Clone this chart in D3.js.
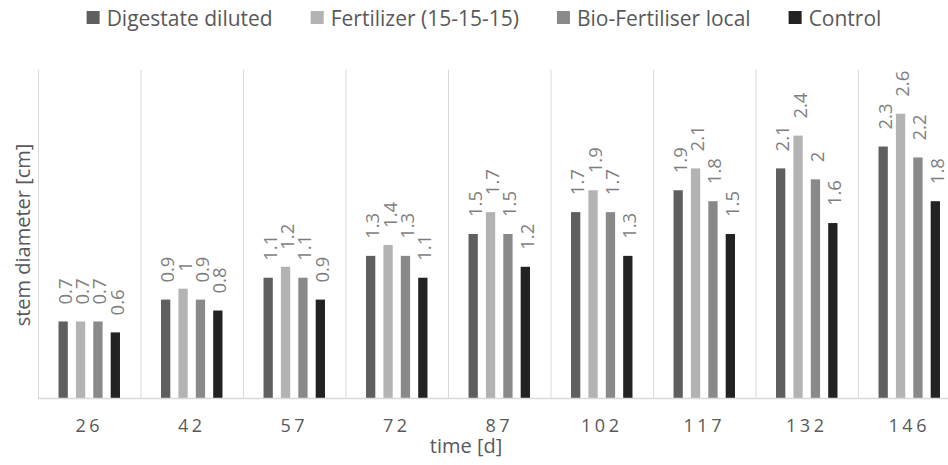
<!DOCTYPE html>
<html>
<head>
<meta charset="utf-8">
<script src="https://cdn.jsdelivr.net/npm/d3@7"></script>
<style>
  body { margin: 0; background: #fff; }
  svg { display: block; font-family: "Open Sans", "Noto Sans", sans-serif; }
</style>
</head>
<body>
<svg width="948" height="465"></svg>
<script>
// data
var days = ["26", "42", "57", "72", "87", "102", "117", "132", "146"];
var seriesNames = ["Digestate diluted", "Fertilizer (15-15-15)", "Bio-Fertiliser local", "Control"];
var digestate = [0.7, 0.9, 1.1, 1.3, 1.5, 1.7, 1.9, 2.1, 2.3];
var fertilizer = [0.7, 1.0, 1.2, 1.4, 1.7, 1.9, 2.1, 2.4, 2.6];
var bioFert = [0.7, 0.9, 1.1, 1.3, 1.5, 1.7, 1.8, 2.0, 2.2];
var control = [0.6, 0.8, 0.9, 1.1, 1.2, 1.3, 1.5, 1.6, 1.8];
var colors = ["#5f5f5f", "#b3b3b3", "#898989", "#222222"];

var values = [digestate, fertilizer, bioFert, control];

var svg = d3.select("svg");
// plot area (the last category runs past the right edge, as in the original)
var plotLeft = 38, plotRight = 960.5, plotTop = 70, plotBottom = 398;

var x0 = d3.scaleBand()
  .domain(days)
  .range([plotLeft, plotRight])
  .padding(0);

var x1 = d3.scaleBand()
  .domain(seriesNames)
  .range([0, x0.bandwidth()])
  .paddingInner(0.466)
  .paddingOuter(1.18);

var y = d3.scaleLinear()
  .domain([0, 3])
  .range([plotBottom, plotTop]);

// vertical gridlines between categories
svg.append("g")
  .selectAll("line")
  .data(days)
  .enter()
  .append("line")
  .attr("x1", d => x0(d) + 0.5)
  .attr("x2", d => x0(d) + 0.5)
  .attr("y1", plotTop)
  .attr("y2", plotBottom)
  .attr("stroke", "#d9d9d9")
  .attr("stroke-width", 1);

// bars
var groups = svg.append("g")
  .selectAll("g")
  .data(days)
  .enter()
  .append("g")
  .attr("transform", d => "translate(" + x0(d) + ",0)");

function rows(d, i) {
  return seriesNames.map((s, j) => ({ s: s, j: j, v: values[j][i] }));
}

groups.selectAll("rect")
  .data(rows)
  .enter()
  .append("rect")
  .attr("x", d => x1(d.s))
  .attr("width", x1.bandwidth())
  .attr("y", d => y(d.v))
  .attr("height", d => y(0) - y(d.v))
  .attr("fill", d => colors[d.j]);

// rotated value labels
groups.selectAll("text")
  .data(rows)
  .enter()
  .append("text")
  .attr("transform", d => "translate(" + (x1(d.s) + x1.bandwidth() / 2 + 1) + "," + (y(d.v) - 17) + ") rotate(-90)")
  .attr("dominant-baseline", "central")
  .attr("font-size", 18.5)
  .attr("fill", "#7f7f7f")
  .text(d => d.v);

// x axis baseline
svg.append("line")
  .attr("x1", plotLeft)
  .attr("x2", 948)
  .attr("y1", plotBottom + 0.5)
  .attr("y2", plotBottom + 0.5)
  .attr("stroke", "#d9d9d9")
  .attr("stroke-width", 1.3);

// category labels
var xAxis = d3.axisBottom(x0).tickSize(0).tickPadding(0);
var gx = svg.append("g")
  .attr("transform", "translate(0," + plotBottom + ")")
  .call(xAxis);
gx.select(".domain").remove();
gx.selectAll("text")
  .attr("y", 34)
  .attr("dy", 0)
  .attr("font-size", 18)
  .attr("font-family", "'Open Sans', 'Noto Sans', sans-serif")
  .attr("letter-spacing", 3.5)
  .attr("fill", "#595959");

// axis titles
svg.append("text")
  .attr("x", 466)
  .attr("y", 453)
  .attr("text-anchor", "middle")
  .attr("font-size", 20)
  .attr("fill", "#595959")
  .text("time [d]");

svg.append("text")
  .attr("transform", "translate(22,235) rotate(-90)")
  .attr("text-anchor", "middle")
  .attr("dominant-baseline", "central")
  .attr("font-size", 20)
  .attr("fill", "#595959")
  .text("stem diameter [cm]");

// legend
var legend = svg.append("g");
var items = legend.selectAll("g")
  .data(seriesNames)
  .enter()
  .append("g");
items.append("rect")
  .attr("y", 11)
  .attr("width", 13)
  .attr("height", 13)
  .attr("fill", (d, i) => colors[i]);
items.append("text")
  .attr("x", 20)
  .attr("y", 18)
  .attr("dominant-baseline", "central")
  .attr("font-size", 21)
  .attr("fill", "#595959")
  .text(d => d);

var pos = 0;
items.each(function () {
  var w = d3.select(this).select("text").node().getComputedTextLength();
  d3.select(this).attr("transform", "translate(" + pos + ",0)");
  pos += 20 + w + 38;
});
var total = pos - 38;
legend.attr("transform", "translate(" + (484 - total / 2) + ",0)");
</script>
</body>
</html>
